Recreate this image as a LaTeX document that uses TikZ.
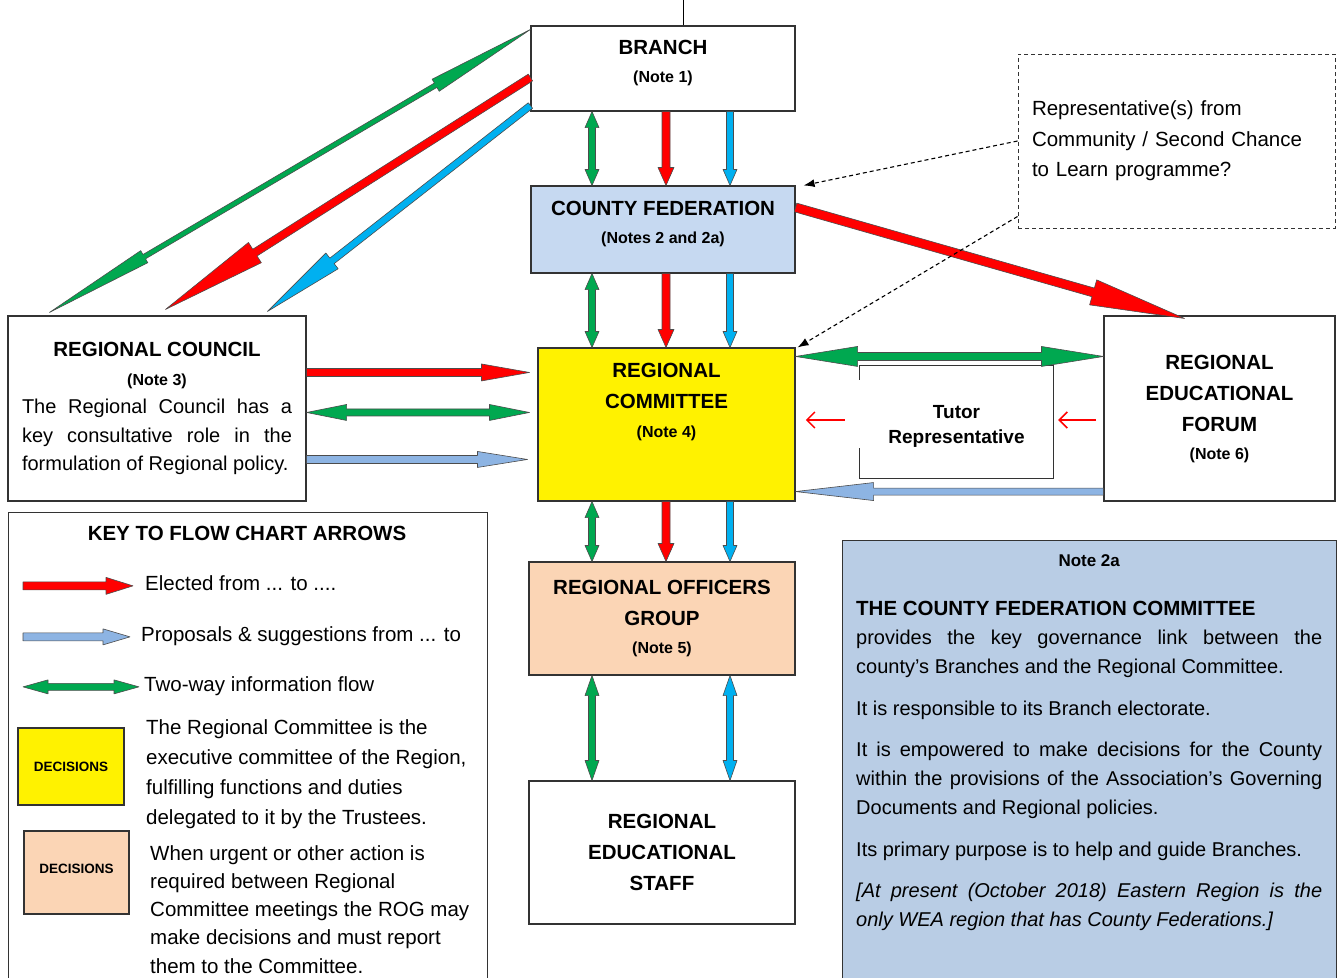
\documentclass[tikz,border=0pt]{standalone}
\usepackage{fontspec}
\setmainfont{Liberation Sans}
\usetikzlibrary{calc,arrows.meta}
\definecolor{grn}{RGB}{0,168,80}
\definecolor{cyn}{RGB}{0,176,240}
\definecolor{prop}{RGB}{141,180,227}
\definecolor{fed}{RGB}{198,217,241}
\definecolor{rog}{RGB}{251,213,181}
\definecolor{notebg}{RGB}{185,205,229}
\newcommand{\fsz}[2]{\fontsize{#1}{#2}\selectfont}
% block arrow: colour, from, to, half shaft, half head, head length
\newcommand{\barr}[6]{%
 \coordinate (hb) at ($(#3)!#6!(#2)$);
 \filldraw[fill=#1,draw=black!70,line width=0.6pt,line join=round]
  ($(#2)!#4!90:(#3)$) -- ($(hb)!#4!90:(#3)$) -- ($(hb)!#5!90:(#3)$) -- (#3)
  -- ($(hb)!#5!-90:(#3)$) -- ($(hb)!#4!-90:(#3)$) -- ($(#2)!#4!-90:(#3)$) -- cycle;
}
% two-headed block arrow, same arguments
\newcommand{\dbarr}[6]{%
 \coordinate (ha) at ($(#2)!#6!(#3)$);
 \coordinate (hb) at ($(#3)!#6!(#2)$);
 \filldraw[fill=#1,draw=black!70,line width=0.6pt,line join=round]
  (#2) -- ($(ha)!#5!90:(#3)$) -- ($(ha)!#4!90:(#3)$) -- ($(hb)!#4!90:(#3)$)
  -- ($(hb)!#5!90:(#3)$) -- (#3) -- ($(hb)!#5!-90:(#3)$) -- ($(hb)!#4!-90:(#3)$)
  -- ($(ha)!#4!-90:(#3)$) -- ($(ha)!#5!-90:(#3)$) -- cycle;
}

\begin{document}
\begin{tikzpicture}[x=1pt,y=-1pt,
 box/.style={draw=black!80,line width=1.1pt,align=center,inner sep=0pt,font=\bfseries\fsz{20.5}{31}},
 btext/.style={align=center,inner sep=0pt,font=\bfseries\fsz{20.5}{31}},
 ktext/.style={inner sep=0pt,font=\fsz{20.5}{30}},
 dasharr/.style={dash pattern=on 4pt off 3pt,line width=1.1pt,-{Latex[length=11pt,width=8pt]}}]
\useasboundingbox (0,0) rectangle (1338,977);
\coordinate (cg) at (592,0);
\coordinate (cr) at (666,0);
\coordinate (cb) at (730,0);

\node (branch) [box,minimum width=264pt,minimum height=85pt] at (663,68.5) {};
\node (brancht) [btext] at ([yshift=5pt]branch) {BRANCH\\[-3pt]{\fsz{16}{31}(Note 1)}};
\draw[line width=1pt] ([xshift=20pt]branch.north) -- ++(0,-27);
\node (cfed) [box,fill=fed,minimum width=264pt,minimum height=87pt] at (663,229.5) {};
\node (cfedt) [btext] at ([yshift=6pt]cfed) {COUNTY FEDERATION\\[-3pt]{\fsz{16}{31}(Notes 2 and 2a)}};
\node (rcom) [box,fill=yellow,minimum width=257pt,minimum height=153pt] at (666.5,424.5) {};
\node (rcomt) [btext,anchor=north] at ([yshift=-16pt]rcom.north) {REGIONAL\\COMMITTEE\\[-2pt]{\fsz{16}{31}(Note 4)}};
\node (rog) [box,fill=rog,minimum width=266pt,minimum height=113pt] at (662,618.5) {REGIONAL OFFICERS\\GROUP\\[-3pt]{\fsz{16}{31}(Note 5)}};
\node (res) [box,minimum width=266pt,minimum height=143pt] at (662,852.5) {REGIONAL\\EDUCATIONAL\\STAFF};
\node (ref) [box,minimum width=231pt,minimum height=185pt] at (1219.5,408.5) {REGIONAL\\EDUCATIONAL\\FORUM\\[-3pt]{\fsz{16}{31}(Note 6)}};
\node (council) [draw=black!80,line width=1.1pt,inner sep=0pt,text width=270pt,align=justify,minimum width=298pt,minimum height=185pt,font=\fsz{20}{28.5}] at (157,408.5)
 {{\centering\bfseries\fsz{20.5}{28.5}REGIONAL COUNCIL\par\fsz{16}{28.5}(Note 3)\par}
 The Regional Council has a\linebreak key consultative role in the\linebreak formulation of Regional policy.};

\node (rep) [draw=black!80,line width=1pt,dash pattern=on 4pt off 3pt,text width=289pt,inner xsep=14pt,minimum height=174pt,align=left,font=\fsz{20.5}{30.5}] at (1176.5,141)
 {Representative(s) from\\Community / Second Chance\\to Learn programme?};

\node (tutor) [align=center,inner sep=0pt,minimum width=193pt,minimum height=112pt,font=\bfseries\fsz{19}{25}] at (956.5,426) {Tutor\\Representative};
\draw[draw=black!80,line width=1.1pt] ([yshift=-10pt]tutor.north west) |- ([yshift=4pt]tutor.north east) |- ([yshift=4pt]tutor.south west) -- ([yshift=34pt]tutor.south west);
\draw[red,line width=1.5pt,-{Straight Barb[length=8pt,width=16pt]}] ([xshift=-15pt,yshift=6pt]tutor.west) -- ([xshift=-54pt,yshift=6pt]tutor.west);
\draw[red,line width=1.5pt,-{Straight Barb[length=8pt,width=16pt]}] ([xshift=43pt,yshift=6pt]tutor.east) -- ([xshift=5pt,yshift=6pt]tutor.east);

% key
\node (key) [draw=black!80,line width=1.1pt,anchor=north west,minimum width=479pt,minimum height=480pt] at (8,512) {};
\node (keyt) [font=\bfseries\fsz{20.5}{25}] at (247,533) {KEY TO FLOW CHART ARROWS};
\node (kred) [ktext,anchor=base west] at (145,590.5) {Elected from ... to ....};
\node (kblue) [ktext,anchor=base west] at (141,641.5) {Proposals \& suggestions from ... to};
\node (kgrn) [ktext,anchor=base west] at (144,691.5) {Two-way information flow};
\barr{red}{[xshift=-122pt,yshift=2pt]kred.mid west}{[xshift=-12pt,yshift=2pt]kred.mid west}{4pt}{8.5pt}{27pt}
\barr{prop}{[xshift=-118pt,yshift=2pt]kblue.mid west}{[xshift=-11pt,yshift=2pt]kblue.mid west}{4pt}{8pt}{27pt}
\dbarr{grn}{[xshift=-121pt,yshift=2pt]kgrn.mid west}{[xshift=-5pt,yshift=2pt]kgrn.mid west}{3.5pt}{7pt}{25pt}
\node (kyel) [box,fill=yellow,minimum width=106pt,minimum height=77pt,font=\bfseries\fsz{13.5}{16}] at (71,766.5) {DECISIONS};
\node (kpch) [box,fill=rog,minimum width=105pt,minimum height=83pt,font=\bfseries\fsz{13.5}{16}] at (76.5,872.5) {};
\node (kpcht0) [font=\bfseries\fsz{13.5}{16}] at ([yshift=4pt]kpch) {DECISIONS};
\node (kyelt) [ktext,anchor=north west,align=left] at (146,719) {The Regional Committee is the\\executive committee of the Region,\\fulfilling functions and duties\\delegated to it by the Trustees.};
\node (kpcht) [ktext,anchor=north west,align=left,font=\fsz{20.5}{28.3}] at (150,845) {When urgent or other action is\\required between Regional\\Committee meetings the ROG may\\make decisions and must report\\them to the Committee.};

% note 2a
\node (note) [draw=black!80,line width=1.1pt,fill=notebg,anchor=north west,minimum width=494pt,minimum height=460pt] at (842,540) {};
\node (notet) [anchor=north west,inner sep=0pt,text width=466pt,align=justify,font=\fsz{20}{29}] at (856,554)
 {\setlength{\parskip}{12.5pt}{\centering\bfseries\fsz{17}{24}Note 2a\par}\vspace{8pt}
 {\bfseries\fsz{20.5}{29}THE COUNTY FEDERATION COMMITTEE}\newline
 provides the key governance link between the\linebreak county's Branches and the Regional Committee.\par
 It is responsible to its Branch electorate.\par
 It is empowered to make decisions for the County\linebreak within the provisions of the Association's Governing\linebreak Documents and Regional policies.\par
 Its primary purpose is to help and guide Branches.\par
 {\itshape [At present (October 2018) Eastern Region is the\linebreak only WEA region that has County Federations.]}\par};

% arrows between the boxes
\foreach \a/\b in {branch/cfed,cfed/rcom,rcom/rog}{
 \dbarr{grn}{\a.south -| cg}{\b.north -| cg}{3.5pt}{7pt}{16pt}
 \barr{red}{\a.south -| cr}{\b.north -| cr}{4pt}{8pt}{18pt}
 \barr{cyn}{\a.south -| cb}{\b.north -| cb}{3.5pt}{7pt}{16pt}
}
\dbarr{grn}{rog.south -| cg}{res.north -| cg}{3.5pt}{7pt}{20pt}
\dbarr{cyn}{rog.south -| cb}{res.north -| cb}{3.5pt}{7pt}{20pt}

\barr{red}{[yshift=-57pt]council.north east}{[xshift=-8pt,yshift=-25pt]rcom.north west}{4pt}{8.5pt}{48pt}
\dbarr{grn}{[yshift=-97pt]council.north east}{[xshift=-8pt,yshift=-65pt]rcom.north west}{3.5pt}{8pt}{40pt}
\barr{prop}{[yshift=-144pt]council.north east}{[xshift=-10pt,yshift=-112pt]rcom.north west}{4pt}{8pt}{50pt}

\dbarr{grn}{[yshift=-9pt]rcom.north east}{[yshift=-41pt]ref.north west}{4pt}{10pt}{62pt}
\barr{prop}{[yshift=10pt]ref.south west}{[yshift=10pt]rcom.south east}{3.5pt}{9pt}{78pt}
\barr{red}{[yshift=-22pt]cfed.north east}{[xshift=-35pt,yshift=-3pt]ref.north}{4.5pt}{13pt}{95pt}

\dbarr{grn}{[yshift=-4pt]branch.north west}{[xshift=42pt,yshift=3pt]council.north west}{2.5pt}{7pt}{110pt}
\barr{red}{[yshift=-9pt]branch.west}{[xshift=158pt,yshift=6pt]council.north west}{4pt}{12pt}{106pt}
\barr{cyn}{[yshift=-37pt]branch.west}{[xshift=260pt,yshift=4pt]council.north west}{3.5pt}{10pt}{82pt}

\draw[dasharr] (rep.west) -- ([xshift=8pt]cfed.north east);
\draw[dasharr] ([yshift=12pt]rep.south west) -- ([xshift=2pt]rcom.north east);
\end{tikzpicture}
\end{document}
